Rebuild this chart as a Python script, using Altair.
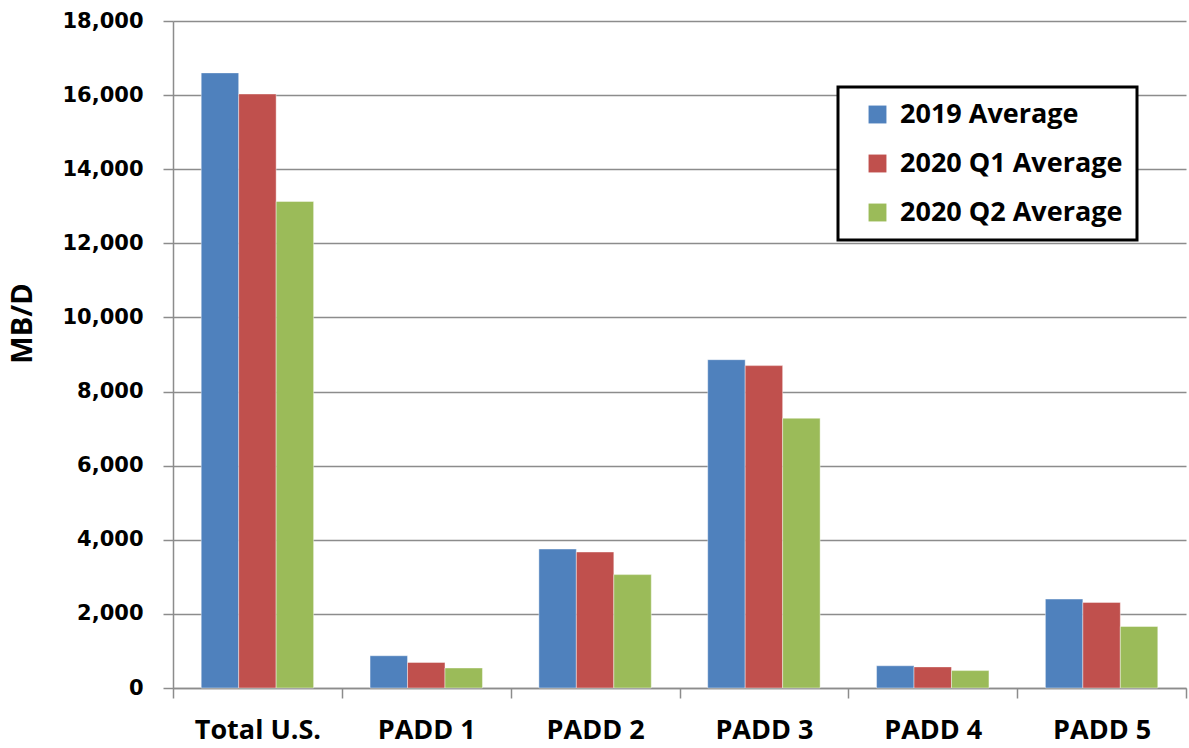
import altair as alt
import pandas as pd

regions = ["Total U.S.", "PADD 1", "PADD 2", "PADD 3", "PADD 4", "PADD 5"]
series = ["2019 Average", "2020 Q1 Average", "2020 Q2 Average"]
avg_2019 = [16600, 870, 3750, 8860, 600, 2400]
avg_2020_q1 = [16030, 690, 3670, 8700, 570, 2310]
avg_2020_q2 = [13130, 540, 3060, 7280, 470, 1660]
colors = ["#4F81BD", "#C0504D", "#9BBB59"]
y_ticks = [0, 2000, 4000, 6000, 8000, 10000, 12000, 14000, 16000, 18000]

rows = []
for vals, s in zip([avg_2019, avg_2020_q1, avg_2020_q2], series):
    for r, v in zip(regions, vals):
        rows.append({"region": r, "series": s, "value": v})
df = pd.DataFrame(rows)

W, H = 1013, 667

bars = alt.Chart(df).mark_bar(stroke="white", strokeWidth=0.6, strokeOpacity=0.7).encode(
    x=alt.X("region:N", sort=regions,
            scale=alt.Scale(paddingInner=0, paddingOuter=0),
            axis=alt.Axis(title=None, labelAngle=0, tickBand="extent",
                          labelFont="Open Sans", labelFontWeight="bold", labelFontSize=27,
                          labelColor="black", labelPadding=19, tickSize=10,
                          tickColor="#8c8c8c", tickWidth=1.5, domainColor="#8c8c8c",
                          domainWidth=1.5, grid=False)),
    xOffset=alt.XOffset("series:N", sort=series,
                        scale=alt.Scale(paddingInner=0, paddingOuter=0.753)),
    y=alt.Y("value:Q", scale=alt.Scale(domain=[0, 18000], nice=False),
            axis=alt.Axis(title="MB/D", values=y_ticks, labelOverlap=False,
                          format=",.0f", labelFont="DejaVu Sans", labelFontWeight="bold",
                          labelFontSize=21, labelColor="black", labelPadding=20,
                          tickSize=10, tickColor="#8c8c8c", tickWidth=1.5,
                          domainColor="#8c8c8c", domainWidth=1.5,
                          gridColor="#8c8c8c", gridWidth=1.5,
                          titleFont="Open Sans", titleFontWeight="bold", titleFontSize=29,
                          titleColor="black", titleX=-136, titleY=302, titleAngle=270,
                          titleAlign="center")),
    color=alt.Color("series:N", sort=series,
                    scale=alt.Scale(domain=series, range=colors),
                    legend=alt.Legend(title=None, orient="none", legendX=665, legendY=66,
                                      symbolType="square", symbolSize=320,
                                      symbolStrokeWidth=0, symbolOffset=12,
                                      labelFont="Open Sans", labelFontWeight="bold",
                                      labelFontSize=27, labelColor="black", labelOffset=9,
                                      labelLimit=500,
                                      rowPadding=21, padding=14,
                                      strokeColor="black", fillColor="white")),
)

chart = bars.properties(
    width=W, height=H,
    autosize=alt.AutoSizeParams(type="none"),
    padding={"left": 173, "top": 21, "right": 3, "bottom": 60},
).configure_view(stroke=None).configure_legend(strokeWidth=3)

chart.save("out.html", embed_options={"renderer": "svg", "actions": False})
